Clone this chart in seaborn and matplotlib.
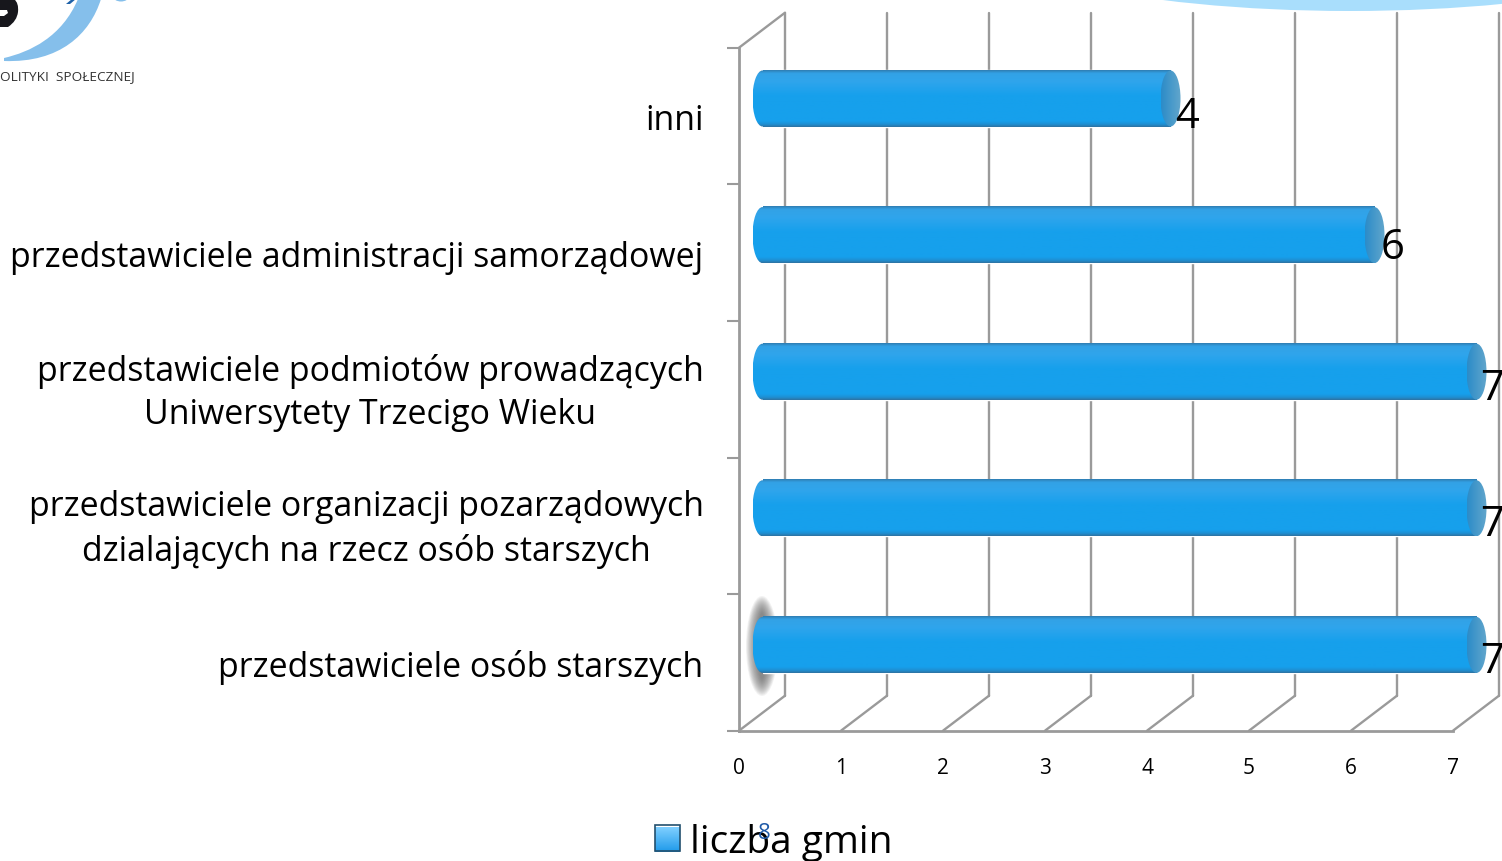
import matplotlib
matplotlib.use("Agg")
import matplotlib.pyplot as plt
import seaborn as sns
import numpy as np
from matplotlib.colors import LinearSegmentedColormap
from matplotlib.patches import Ellipse, Patch, PathPatch, Polygon
from matplotlib.path import Path
from matplotlib.transforms import Affine2D

categories = [
    "inni",
    "przedstawiciele administracji samorządowej",
    "przedstawiciele podmiotów prowadzących\nUniwersytety Trzecigo Wieku",
    "przedstawiciele organizacji pozarządowych\ndzialających na rzecz osób starszych",
    "przedstawiciele osób starszych",
]
values = [4, 6, 7, 7, 7]
x_ticks = [0, 1, 2, 3, 4, 5, 6, 7]
label_offsets = [(16, -17), (18, -12), (16, -16), (16, -16), (16, -16)]
legend_label = "liczba gmin"
footer_logo = "OLITYKI  SPOŁECZNEJ"
page_number = "8"

W, H = 1502, 862
FONT = "Open Sans"
GRID = "#9a9a9a"
BLUE = "#16a0ec"
AX_TOP, AX_BOTTOM = 48.7, 731.7


def px_rect(left, top, right, bottom):
    return [left / W, 1 - bottom / H, (right - left) / W, (bottom - top) / H]


sns.set_theme(style="white")
plt.rcParams["font.family"] = [FONT, "DejaVu Sans"]

fig = plt.figure(figsize=(W / 100, H / 100), dpi=100, facecolor="white")

# ===================== DECORATION (slide background) =====================
deco = fig.add_axes([0, 0, 1, 1], zorder=0)

deco.add_patch(Ellipse((1350, -82), 800, 188, color="#a9defc", lw=0))
blob = Path(
    [(0, 0), (14, 0), (19, 4), (18, 13), (17, 22), (8, 28), (0, 28), (0, 0)],
    [Path.MOVETO, Path.LINETO, Path.CURVE3, Path.CURVE3, Path.CURVE3, Path.CURVE3, Path.LINETO, Path.CLOSEPOLY],
)
deco.add_patch(PathPatch(blob, color="#17171c", lw=0))
deco.add_patch(Polygon([(0, 11), (7, 11), (8, 14), (4, 17), (0, 17)], color="white", lw=0))
deco.add_patch(Polygon([(66, 5), (72, 0), (76, 0), (70, 5)], color="#1f62a8", lw=0))
deco.add_patch(Ellipse((121, -2), 15, 9, color="#85bfeb", lw=0))
crescent = Path(
    [(78, 0), (62, 38), (30, 53), (4, 59), (4, 62), (60, 64), (90, 35), (101, 0), (78, 0)],
    [Path.MOVETO, Path.CURVE4, Path.CURVE4, Path.CURVE4, Path.LINETO,
     Path.CURVE4, Path.CURVE4, Path.CURVE4, Path.CLOSEPOLY],
)
deco.add_patch(PathPatch(crescent, color="#85bfeb", lw=0))
deco.text(0, 77, footer_logo, fontsize=9.7, color="#333333", va="center", ha="left")

# blurred shadow at the start of the lowest bar
for w_shadow, h_shadow in zip(np.linspace(32, 10, 16), np.linspace(100, 66, 16)):
    deco.add_patch(Ellipse((762, 647), w_shadow, h_shadow, color="#666666", alpha=0.08, lw=0))

# legend swatch gradient
swatch_cmap = LinearSegmentedColormap.from_list("swatch", ["#7fcfff", "#1f9aea"])
deco.imshow(np.linspace(0, 1, 32).reshape(-1, 1), cmap=swatch_cmap, aspect="auto",
            extent=(655, 680, 853, 828))
deco.set_xlim(0, W)
deco.set_ylim(H, 0)
deco.axis("off")

# ===================== FRONT AXIS AND 3D WALLS =====================
ax = fig.add_axes(px_rect(739, AX_TOP, 1453, AX_BOTTOM), zorder=1)
ax.patch.set_alpha(0)
ax.set_xlim(x_ticks[0], x_ticks[-1])
ax.set_ylim(len(categories) - 0.5, -0.5)

depth_x = 46 / 102
depth_y = 35 / 136.6
y_bottom, y_top = ax.get_ylim()
for x in x_ticks:
    ax.plot([x, x + depth_x], [y_bottom, y_bottom - depth_y], color=GRID, lw=1.7, clip_on=False)
    ax.plot([x + depth_x, x + depth_x], [y_bottom - depth_y, y_top - depth_y], color=GRID, lw=1.7, clip_on=False)
ax.plot([0, depth_x], [y_top, y_top - depth_y], color=GRID, lw=1.7, clip_on=False)

sns.despine(ax=ax, top=True, right=True)
for side in ["left", "bottom"]:
    ax.spines[side].set_color(GRID)
    ax.spines[side].set_linewidth(2)

ax.set_xticks(x_ticks)
ax.tick_params(axis="x", length=5, width=1.5, color=GRID, labelsize=15, pad=14, labelcolor="black")
ax.set_yticks(range(len(categories)), categories)
ax.set_yticks(np.arange(len(categories) + 1) - 0.5, minor=True)
ax.tick_params(axis="y", which="major", length=0, pad=25.5, labelsize=24.4, labelcolor="black")
ax.tick_params(axis="y", which="minor", left=True, length=9, width=1.5, color=GRID)
for lab in ax.get_yticklabels():
    lab.set_multialignment("center")
    lab.set_linespacing(1.36)
    if "\n" in lab.get_text():
        lab.set_transform(lab.get_transform() + Affine2D().translate(0, 6))

# ===================== BARS (half way into the depth) =====================
bar_ax = fig.add_axes(px_rect(739 + 23.5, AX_TOP - 17.5, 1453 + 23.5, AX_BOTTOM - 17.5), zorder=2)
sns.barplot(x=values, y=categories, color=BLUE, width=0.41, saturation=1, ax=bar_ax)
bar_xlim = ax.get_xlim()
bar_ylim = ax.get_ylim()

body_cmap = LinearSegmentedColormap.from_list(
    "body", [(0, "#2f81b8"), (0.05, "#33a2e6"), (0.2, "#2fa5ec"), (0.45, BLUE),
             (0.9, BLUE), (0.96, "#1f8fd2"), (1, "#2d76a8")])
cap_cmap = LinearSegmentedColormap.from_list("cap", ["#2c8cc8", "#62a6cc"])
cap_w = 20 / 102
grad_v = np.linspace(0, 1, 64).reshape(-1, 1)
grad_h = np.linspace(0, 1, 32).reshape(1, -1)

for bar in list(bar_ax.patches):
    y0 = bar.get_y()
    h = bar.get_height()
    w = bar.get_width()
    y_mid = y0 + h / 2
    bar_ax.imshow(grad_v, cmap=body_cmap, aspect="auto", extent=(0, w, y0 + h, y0), zorder=3)

    start = Ellipse((0, y_mid), cap_w, h, facecolor="none", lw=0, clip_on=False)
    bar_ax.add_patch(start)
    im_start = bar_ax.imshow(grad_v, cmap=body_cmap, aspect="auto",
                             extent=(-cap_w / 2, 0, y0 + h, y0), zorder=3)
    im_start.set_clip_path(start)
    im_start.set_clip_box(fig.bbox)

    end = Ellipse((w, y_mid), cap_w, h, facecolor="none", lw=0, clip_on=False)
    bar_ax.add_patch(end)
    im_end = bar_ax.imshow(grad_h, cmap=cap_cmap, aspect="auto",
                           extent=(w - cap_w / 2, w + cap_w / 2, y0 + h, y0), zorder=4)
    im_end.set_clip_path(end)
    im_end.set_clip_box(fig.bbox)

bar_ax.set_xlim(bar_xlim)
bar_ax.set_ylim(bar_ylim)
bar_ax.axis("off")

# data labels
for i, (v, off) in enumerate(zip(values, label_offsets)):
    bar_ax.annotate(str(v), xy=(v, i), xytext=off, textcoords="offset pixels",
                    ha="center", va="center", fontsize=30, color="black",
                    annotation_clip=False, zorder=5)

# ===================== LEGEND AND PAGE NUMBER =====================
leg = fig.legend(handles=[Patch(facecolor="none", edgecolor="#23506e", lw=1.2, label=legend_label)],
                 loc="center left", bbox_to_anchor=(620 / W, 1 - 843 / H), frameon=False,
                 fontsize=28, handlelength=0.64, handleheight=0.64, handletextpad=0.26,
                 labelcolor="black")
fig.text(764 / W, 1 - 834 / H, page_number, fontsize=16, color="#1f5aa8", ha="center", va="center", zorder=6)

fig.savefig("out.png", dpi=100)
